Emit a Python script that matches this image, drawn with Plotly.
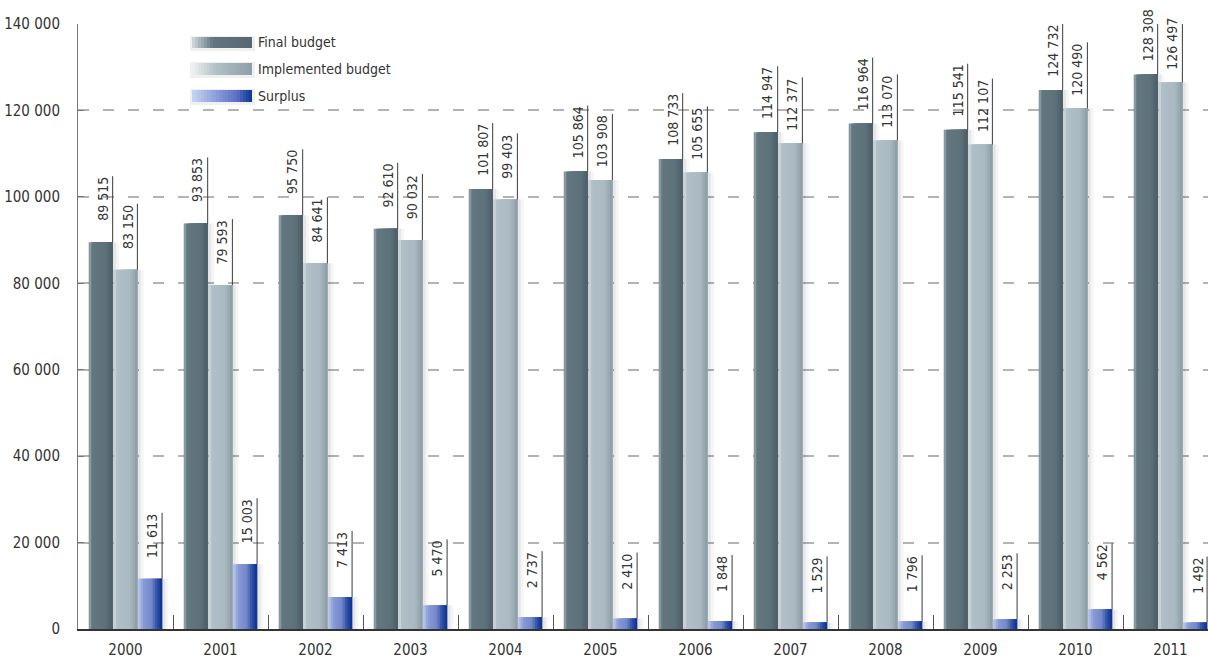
import plotly.graph_objects as go

# ---- data -------------------------------------------------------------
years = ["2000", "2001", "2002", "2003", "2004", "2005",
         "2006", "2007", "2008", "2009", "2010", "2011"]
final_budget = [89515, 93853, 95750, 92610, 101807, 105864,
                108733, 114947, 116964, 115541, 124732, 128308]
implemented_budget = [83150, 79593, 84641, 90032, 99403, 103908,
                      105655, 112377, 113070, 112107, 120490, 126497]
surplus = [11613, 15003, 7413, 5470, 2737, 2410,
           1848, 1529, 1796, 2253, 4562, 1492]
y_tick_values = [0, 20000, 40000, 60000, 80000, 100000, 120000, 140000]
y_tick_labels = ["0", "20 000", "40 000", "60 000", "80 000",
                 "100 000", "120 000", "140 000"]

# ---- geometry / styling ----------------------------------------------
W, H = 1208, 661
ML, MR, MT, MB = 78, 0, 24, 32
PLOT_W, PLOT_H = W - ML - MR, H - MT - MB
Y_MAX = 140000
CAT_PX = 95.0                       # pixel width of one year slot
X_RANGE = [-0.5, -0.5 + PLOT_W / CAT_PX]
UNITS_PER_PX = Y_MAX / PLOT_H
LEAD_PX = 66                        # leader line length above each bar

FONT = "DejaVu Sans Condensed, Liberation Sans Narrow, sans-serif"
TEXT = "#333333"
BAR_W = 0.25


def hex_to_rgb(h):
    h = h.lstrip("#")
    return tuple(int(h[i:i + 2], 16) for i in (0, 2, 4))


def color_at(stops, t):
    for (p0, c0), (p1, c1) in zip(stops, stops[1:]):
        if p0 <= t <= p1:
            f = 0 if p1 == p0 else (t - p0) / (p1 - p0)
            a, b = hex_to_rgb(c0), hex_to_rgb(c1)
            r, g, bl = (round(a[k] + (b[k] - a[k]) * f) for k in range(3))
            return f"rgb({r},{g},{bl})"
    return stops[-1][1]


series = [
    ("Final budget", final_budget, -0.385,
     [(0, "#9aacb4"), (0.14, "#63777f"), (0.7, "#5d717b"), (1, "#4b5c65")],
     [(0, "#d4dade"), (0.35, "#62767f"), (1, "#556871")]),
    ("Implemented budget", implemented_budget, -0.125,
     [(0, "#cfd9de"), (0.16, "#b0bfc7"), (0.7, "#aab9c1"), (1, "#8b9ba4")],
     [(0, "#eef2f4"), (0.4, "#b2c0c7"), (1, "#8e9ea7")]),
    ("Surplus", surplus, 0.135,
     [(0, "#bccbef"), (0.2, "#8a9bd8"), (0.55, "#7387cb"), (0.8, "#2b4ea6"), (1, "#0a2f88")],
     [(0, "#c8d6f2"), (0.45, "#8596d6"), (0.75, "#5a70c2"), (1, "#0a3590")]),
]

fig = go.Figure()

# soft shadows behind the bars
for name, vals, off, _, _ in series:
    for grow, alpha in ((0.075, 0.05), (0.045, 0.08)):
        fig.add_trace(go.Bar(
            x=years, y=vals, offset=off - 0.01, width=BAR_W + grow,
            marker=dict(color=f"rgba(60,60,60,{alpha})", line=dict(width=0)),
            showlegend=False, hoverinfo="skip"))

# bars: layered strips, each running to the bar's right edge, form a
# horizontal gradient without seams
N_STRIPS = 10
for name, vals, off, stops, _ in series:
    step = BAR_W / N_STRIPS
    for k in range(N_STRIPS):
        fig.add_trace(go.Bar(
            x=years, y=vals, offset=off + k * step, width=BAR_W - k * step,
            marker=dict(color=color_at(stops, (k + 0.5) / N_STRIPS),
                        line=dict(width=0)),
            name=name, showlegend=False,
            hovertemplate=f"{name}<br>%{{x}}: %{{y:,}}<extra></extra>"))

shapes = []
annotations = []

# value labels with leader lines at the right edge of every bar
for name, vals, off, _, _ in series:
    for i, v in enumerate(vals):
        xr = i + off + BAR_W
        shapes.append(dict(
            type="line", xref="x", yref="y", x0=xr, x1=xr,
            y0=v, y1=v + LEAD_PX * UNITS_PER_PX,
            line=dict(color="#3a3a3a", width=1)))
        annotations.append(dict(
            xref="x", yref="y", x=xr, y=v, xanchor="right", yanchor="top",
            xshift=0, yshift=LEAD_PX + 1, textangle=-90, showarrow=False,
            text=f"{v:,}".replace(",", " "),
            font=dict(family=FONT, size=14, color=TEXT)))


# legend drawn as gradient swatches
def px_x(px):
    return (px - ML) / PLOT_W


def px_y(py):
    return (MT + PLOT_H - py) / PLOT_H


LEG_X0, LEG_X1 = 192, 252
leg_rows = [(37, 48), (63, 75), (90, 102)]
for (name, _, _, _, sw_stops), (top, bot) in zip(series, leg_rows):
    shapes.append(dict(
        type="rect", xref="paper", yref="paper", layer="above",
        x0=px_x(LEG_X0 - 2), x1=px_x(LEG_X1 + 3), y0=px_y(bot + 3), y1=px_y(top - 1),
        fillcolor="rgba(0,0,0,0.06)", line=dict(width=0)))
    n = 20
    step = (LEG_X1 - LEG_X0) / n
    for k in range(n):
        shapes.append(dict(
            type="rect", xref="paper", yref="paper", layer="above",
            x0=px_x(LEG_X0 + k * step), x1=px_x(LEG_X1),
            y0=px_y(bot), y1=px_y(top),
            fillcolor=color_at(sw_stops, (k + 0.5) / n), line=dict(width=0)))
    annotations.append(dict(
        xref="paper", yref="paper", x=px_x(256), y=px_y((top + bot) / 2),
        xanchor="left", yanchor="middle", showarrow=False, text=name,
        font=dict(family=FONT, size=14, color=TEXT)))

fig.update_layout(
    width=W, height=H,
    margin=dict(l=ML, r=MR, t=MT, b=MB, pad=0, autoexpand=False),
    paper_bgcolor="white", plot_bgcolor="white",
    barmode="overlay", showlegend=False,
    font=dict(family=FONT, color=TEXT),
    shapes=shapes, annotations=annotations,
    xaxis=dict(
        type="category", range=X_RANGE, tickson="boundaries", automargin=False,
        ticks="inside", ticklen=14, tickwidth=1, tickcolor="#555555",
        showline=True, linecolor="#333333", linewidth=1.5,
        showgrid=False, zeroline=False,
        tickfont=dict(family=FONT, size=15, color=TEXT),
        ticklabelstandoff=6),
    yaxis=dict(
        range=[0, Y_MAX], tickvals=y_tick_values, ticktext=y_tick_labels,
        automargin=False,
        ticks="inside", ticklen=6, tickwidth=1, tickcolor="#777777",
        showline=True, linecolor="#777777", linewidth=1,
        showgrid=True, gridcolor="#b3b3b3", gridwidth=2, griddash="11px,14px",
        zeroline=False,
        tickfont=dict(family=FONT, size=15, color=TEXT),
        ticklabelstandoff=14),
)

fig.write_html("out.html")
